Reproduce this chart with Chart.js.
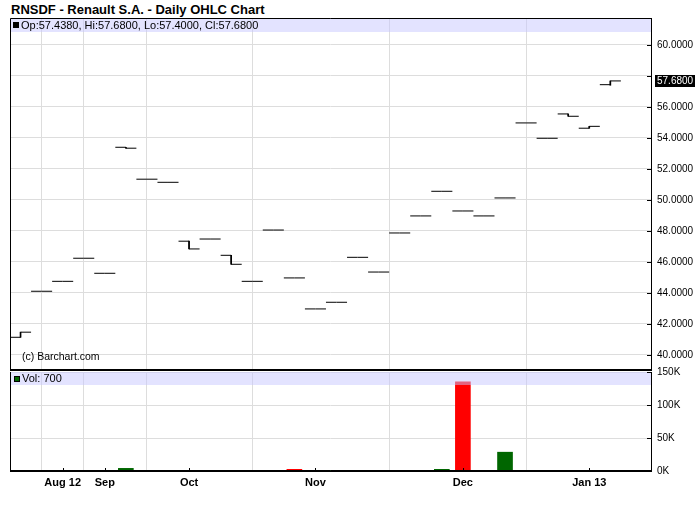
<!DOCTYPE html>
<html>
<head>
<meta charset="utf-8">
<script src="https://cdn.jsdelivr.net/npm/chart.js@4.4.0/dist/chart.umd.min.js"></script>
<style>
body{margin:0;background:#fff;width:700px;height:512px;overflow:hidden;position:relative;font-family:"Liberation Sans",Arial,sans-serif}
#title{position:absolute;left:11px;top:2px;font-weight:bold;font-size:13px;color:#000;white-space:nowrap}
#pw{position:absolute;left:0;top:0;width:700px;height:372px}
#vw{position:absolute;left:0;top:360px;width:700px;height:152px}
</style>
</head>
<body>
<div id="title">RNSDF - Renault S.A. - Daily OHLC Chart</div>
<div id="pw"><canvas id="price"></canvas></div>
<div id="vw"><canvas id="vol"></canvas></div>
<script>
// bars, one per trading day with data
const opens  = [41.14,44.11,44.75,46.24,45.27,53.40,51.34,51.14,47.34,47.48,46.43,44.75,48.06,44.97,42.97,43.40,46.30,45.35,47.87,48.97,50.56,49.29,48.97,50.13,54.97,53.98,55.55,54.63,57.438];
const highs  = [41.47,44.11,44.75,46.24,45.27,53.40,51.34,51.14,47.34,47.48,46.43,44.75,48.06,44.97,42.97,43.40,46.30,45.35,47.87,48.97,50.56,49.29,48.97,50.13,54.97,53.98,55.55,54.75,57.68];
const lows   = [41.14,44.11,44.75,46.24,45.27,53.34,51.34,51.14,46.84,47.48,45.85,44.75,48.06,44.97,42.97,43.40,46.30,45.35,47.87,48.97,50.56,49.29,48.97,50.13,54.97,53.98,55.40,54.63,57.40];
const closes = [41.47,44.11,44.75,46.24,45.27,53.34,51.34,51.14,46.84,47.48,45.85,44.75,48.06,44.97,42.97,43.40,46.30,45.35,47.87,48.97,50.56,49.29,48.97,50.13,54.97,53.98,55.40,54.75,57.68];
const volumes = [200,200,200,200,200,4000,200,200,200,200,200,200,200,2500,200,200,200,200,200,200,2500,135000,200,28500,200,200,200,200,700];

// month ticks (bar index where each month starts)
const monthIdx = [3,5,9,15,22,28];
const monthLabels = ["Aug 12","Sep","Oct","Nov","Dec","Jan 13"];
const priceTicks = [40,42,44,46,48,50,52,54,56,58,60];
const volTicks = [0,50000,100000,150000];

Chart.defaults.font.family = '"Liberation Sans", Arial, sans-serif';
Chart.defaults.color = '#000';

const GRID = '#dddddd';
const BAND = 'rgba(200,200,255,0.5)';
const UP = '#006600', DOWN = '#ff0000';
const n = closes.length;
const last = n - 1;

// open tick to the left, close tick to the right
const tickPts = [];
opens.forEach((o,i)=>{
  tickPts.push({x:i+0.5,y:o},{x:i+1.5,y:closes[i]},{x:i+1.5,y:null});
});
// high-low stems, only where there is a range
const stems = highs.map((h,i)=> h>lows[i] ? {x:i+1, y:[lows[i], h]} : {x:i+1, y:null});
const volColors = closes.map((c,i)=> i===0 || c>=closes[i-1] ? UP : DOWN);

const xBase = {
  type:'linear', offset:false, min:0.5, max:30.93,
  afterBuildTicks: s => { s.ticks = monthIdx.map(v=>({value:v})); },
  grid:{color:GRID, drawTicks:false}
};

function innerTicks(ctx, area, ys, xs){
  ctx.save();
  ctx.strokeStyle = '#000'; ctx.lineWidth = 1;
  ctx.beginPath();
  ys.forEach(y=>{ const p=Math.round(y)+0.5; ctx.moveTo(area.right-4,p); ctx.lineTo(area.right,p); });
  (xs||[]).forEach(x=>{ const p=Math.round(x)+0.5; ctx.moveTo(p,area.bottom-3); ctx.lineTo(p,area.bottom); });
  ctx.stroke();
  ctx.restore();
}

const pricePlugin = {
  id:'priceDeco',
  afterDatasetsDraw(chart){
    const {ctx, chartArea:a, scales:{y}} = chart;
    ctx.save();
    // legend band
    ctx.fillStyle = BAND;
    ctx.fillRect(a.left, a.top, a.right-a.left, 14);
    ctx.fillStyle = '#000';
    ctx.fillRect(a.left+3, a.top+4, 6, 6);
    ctx.font = '11px "Liberation Sans", Arial';
    ctx.textBaseline = 'middle';
    ctx.fillText('Op:'+opens[last].toFixed(4)+', Hi:'+highs[last].toFixed(4)+', Lo:'+lows[last].toFixed(4)+', Cl:'+closes[last].toFixed(4), a.left+11, a.top+7.5);
    // copyright
    ctx.font = '10.5px "Liberation Sans", Arial';
    ctx.fillText('(c) Barchart.com', a.left+12, a.bottom-13);
    // frame
    ctx.strokeStyle = '#000'; ctx.lineWidth = 1;
    ctx.beginPath();
    ctx.moveTo(a.left+0.5, a.bottom); ctx.lineTo(a.left+0.5, a.top+0.5); ctx.lineTo(a.right, a.top+0.5);
    ctx.stroke();
    ctx.lineWidth = 2;
    ctx.beginPath();
    ctx.moveTo(a.left, a.bottom); ctx.lineTo(a.right, a.bottom);
    ctx.stroke();
    ctx.restore();
    innerTicks(ctx, a, priceTicks.map(v=>y.getPixelForValue(v)));
    // last price marker
    const py = y.getPixelForValue(closes[last]);
    ctx.save();
    ctx.fillStyle = '#000';
    ctx.fillRect(a.right+4, Math.round(py)-6, 40, 12);
    ctx.fillStyle = '#fff';
    ctx.font = '10px "Liberation Sans", Arial';
    ctx.textBaseline = 'middle';
    ctx.fillText(closes[last].toFixed(4), a.right+6, Math.round(py)+0.5);
    ctx.restore();
  }
};

new Chart(document.getElementById('price'), {
  type:'bar',
  data:{datasets:[
    {type:'bar', data: stems, backgroundColor:'#000', barThickness:1, grouped:false},
    {type:'line', data: tickPts, borderColor:'#000', borderWidth:1, stepped:'middle', pointRadius:0, spanGaps:false, fill:false}
  ]},
  options:{
    responsive:true, maintainAspectRatio:false, animation:false, events:[], devicePixelRatio:1,
    layout:{padding:{left:10, top:18, right:0, bottom:2}},
    plugins:{legend:{display:false}, tooltip:{enabled:false}},
    scales:{
      x:{...xBase, ticks:{display:false}, border:{display:false}, afterFit: s=>{ s.height = 0; s.paddingLeft = 0; s.paddingRight = 0; }},
      y:{
        position:'right', min:39.03, max:61.74,
        afterBuildTicks: s => { s.ticks = priceTicks.map(v=>({value:v})); },
        afterFit: s => { s.width = 49; s.paddingTop = 0; s.paddingBottom = 0; },
        grid:{color:GRID, drawTicks:false},
        border:{color:'#000'},
        ticks:{padding:6, font:{size:10}, callback: v => Math.abs(v-closes[last])<1 ? '' : v.toFixed(4)}
      }
    }
  },
  plugins:[pricePlugin]
});

const volPlugin = {
  id:'volDeco',
  afterDatasetsDraw(chart){
    const {ctx, chartArea:a, scales:{x,y}} = chart;
    ctx.save();
    ctx.fillStyle = BAND;
    ctx.fillRect(a.left, a.top, a.right-a.left, 13);
    ctx.fillStyle = volColors[last];
    ctx.fillRect(a.left+4, a.top+4, 6, 6);
    ctx.strokeStyle = '#000'; ctx.lineWidth = 1;
    ctx.strokeRect(a.left+4.5, a.top+4.5, 5, 5);
    ctx.fillStyle = '#000';
    ctx.font = '11px "Liberation Sans", Arial';
    ctx.textBaseline = 'middle';
    ctx.fillText('Vol: ' + volumes[last], a.left+12, a.top+7);
    ctx.beginPath();
    ctx.moveTo(a.left+0.5, a.top); ctx.lineTo(a.left+0.5, a.bottom);
    // base line over sub-pixel bars
    ctx.moveTo(a.left, a.bottom-0.5); ctx.lineTo(a.right, a.bottom-0.5);
    ctx.stroke();
    ctx.restore();
    innerTicks(ctx, a, volTicks.map(v=>y.getPixelForValue(v)), monthIdx.map(v=>x.getPixelForValue(v)));
  }
};

new Chart(document.getElementById('vol'), {
  type:'bar',
  data:{datasets:[{data: volumes.map((v,i)=>({x:i+1, y:v})), backgroundColor: volColors, barThickness:15}]},
  options:{
    responsive:true, maintainAspectRatio:false, animation:false, events:[], devicePixelRatio:1,
    layout:{padding:{left:10, top:11, right:0, bottom:0}},
    plugins:{legend:{display:false}, tooltip:{enabled:false}},
    scales:{
      x:{...xBase, border:{color:'#000'}, afterFit: s=>{ s.height = 41; },
        ticks:{padding:5, autoSkip:false, maxRotation:0, font:{size:11, weight:'bold'}, callback:(v,i)=>monthLabels[i]}},
      y:{
        position:'right', min:0, max:150000,
        afterBuildTicks: s => { s.ticks = volTicks.map(v=>({value:v})); },
        afterFit: s => { s.width = 49; },
        grid:{color:GRID, drawTicks:false},
        border:{color:'#000'},
        ticks:{padding:6, font:{size:10}, callback: v => (v/1000)+'K'}
      }
    }
  },
  plugins:[volPlugin]
});
</script>
</body>
</html>
